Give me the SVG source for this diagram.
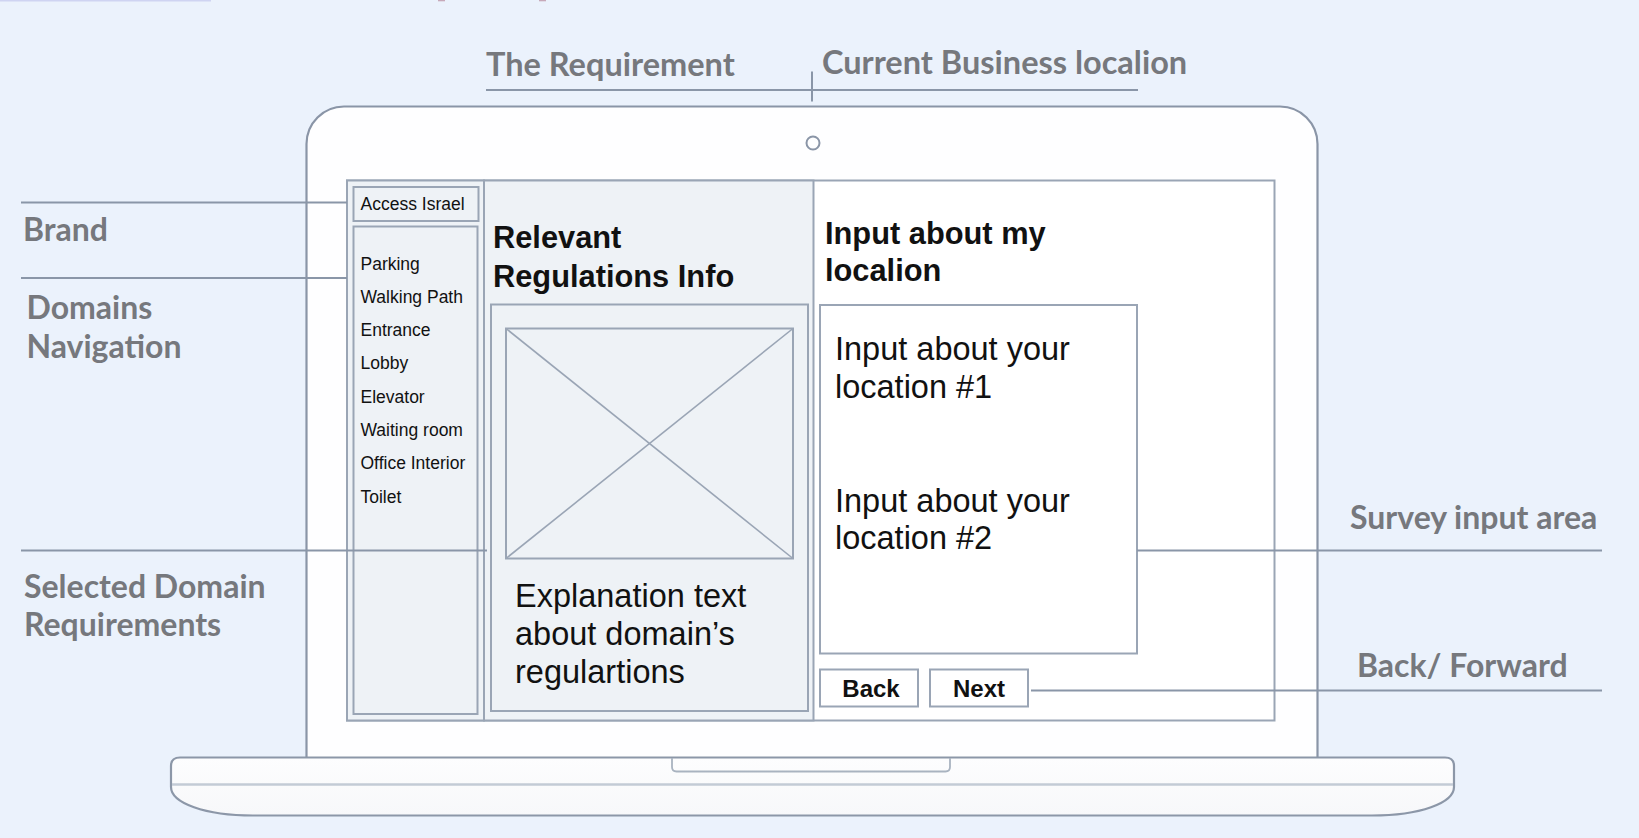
<svg xmlns="http://www.w3.org/2000/svg" width="1639" height="838" viewBox="0 0 1639 838">
  <defs>
    <linearGradient id="baseFill" x1="0" y1="0" x2="0" y2="1">
      <stop offset="0" stop-color="#fdfdfe"/>
      <stop offset="1" stop-color="#f7f8fa"/>
    </linearGradient>
  </defs>
  <style>
    .label { font-family: Lato, "Liberation Sans", sans-serif; font-weight: 700; font-size: 32px; fill: #76787d; }
    .top { font-size: 32.5px; }
    .lead { stroke: #8a96a8; stroke-width: 2; fill: none; }
    .frame { stroke: #8a95a7; stroke-width: 2.2; }
    .box { stroke: #9aa5b5; stroke-width: 2; }
    .ui { font-family: "Liberation Sans", Arial, sans-serif; fill: #111; }
    .nav { font-size: 17.5px; }
    .head { font-size: 30.8px; font-weight: 700; }
    .body { font-size: 32.5px; }
    .btn { font-size: 24px; font-weight: 700; }
  </style>

  <!-- page background -->
  <rect x="0" y="0" width="1639" height="838" fill="#ebf2fc"/>
  <!-- clipped header remnants along the top edge -->
  <rect x="0" y="0" width="211" height="1.5" fill="#cfd4f2"/>
  <rect x="438" y="0" width="7" height="1.3" fill="#c7a9b9"/>
  <rect x="539" y="0" width="7" height="1.3" fill="#c7a9b9"/>

  <!-- laptop -->
  <g id="laptop">
    <path class="frame" d="M306.5,757 L306.5,144 A37.5,37.5 0 0 1 344,106.5 L1280,106.5 A37.5,37.5 0 0 1 1317.5,144 L1317.5,757" fill="#fefeff"/>
    <circle cx="813" cy="143" r="6.5" fill="none" stroke="#8a95a7" stroke-width="2"/>
    <path d="M171,766 Q171,757.5 180,757.5 L1445,757.5 Q1454,757.5 1454,766 L1454,787 C1454,803 1420,815.5 1372,815.5 L253,815.5 C205,815.5 171,803 171,787 Z" fill="url(#baseFill)" stroke="#8c97a8" stroke-width="2.2"/>
    <line x1="172" y1="784.5" x2="1453" y2="784.5" stroke="#c3cbd6" stroke-width="2.5"/>
    <path d="M672,758 L672,767 Q672,771.5 676.5,771.5 L945.5,771.5 Q950,771.5 950,767 L950,758" fill="none" stroke="#a9b3c0" stroke-width="1.8"/>
  </g>

  <!-- screen -->
  <g id="screen">
    <rect x="347" y="180.5" width="927.5" height="540" fill="#ffffff" stroke="#9aa5b5" stroke-width="2"/>
    <rect x="347" y="180.5" width="137" height="540" fill="#eef2f6" class="box"/>
    <rect x="484" y="180.5" width="329.5" height="540" fill="#eef2f6" class="box"/>
  </g>

  <g id="brand">
    <rect x="353.5" y="187" width="125" height="34" fill="#eef2f6" class="box"/>
    <text class="ui nav" x="360.5" y="209.5">Access Israel</text>
  </g>

  <g id="domain-nav">
    <rect x="353.5" y="226.5" width="124" height="487.5" fill="#eef2f6" class="box"/>
    <text class="ui nav" x="360.5" y="269.5">Parking</text>
    <text class="ui nav" x="360.5" y="302.8">Walking Path</text>
    <text class="ui nav" x="360.5" y="336.1">Entrance</text>
    <text class="ui nav" x="360.5" y="369.4">Lobby</text>
    <text class="ui nav" x="360.5" y="402.7">Elevator</text>
    <text class="ui nav" x="360.5" y="436">Waiting room</text>
    <text class="ui nav" x="360.5" y="469.3">Office Interior</text>
    <text class="ui nav" x="360.5" y="502.6">Toilet</text>
  </g>

  <g id="regulations">
    <text class="ui head" x="493" y="247.5">Relevant</text>
    <text class="ui head" x="493" y="286.5">Regulations Info</text>
    <rect x="491" y="304.5" width="317" height="406.5" fill="#eef2f6" class="box"/>
    <rect x="506" y="328.5" width="287" height="230" fill="none" class="box"/>
    <line x1="506" y1="328.5" x2="793" y2="558.5" stroke="#9aa5b5" stroke-width="1.6"/>
    <line x1="793" y1="328.5" x2="506" y2="558.5" stroke="#9aa5b5" stroke-width="1.6"/>
    <text class="ui body" x="515" y="606.5">Explanation text</text>
    <text class="ui body" x="515" y="644.5">about domain’s</text>
    <text class="ui body" x="515" y="683">regulartions</text>
  </g>

  <g id="survey">
    <text class="ui head" x="825" y="244">Input about my</text>
    <text class="ui head" x="825" y="281">localion</text>
    <rect x="820" y="305" width="317" height="348.5" fill="#ffffff" class="box"/>
    <text class="ui body" x="835" y="360">Input about your</text>
    <text class="ui body" x="835" y="397.5">location #1</text>
    <text class="ui body" x="835" y="511.5">Input about your</text>
    <text class="ui body" x="835" y="548.5">location #2</text>
  </g>

  <g id="back-button">
    <rect x="820" y="669.5" width="98" height="37" fill="#ffffff" class="box"/>
    <text class="ui btn" x="871" y="697" text-anchor="middle">Back</text>
  </g>
  <g id="next-button">
    <rect x="930" y="669.5" width="98" height="37" fill="#ffffff" class="box"/>
    <text class="ui btn" x="979" y="697" text-anchor="middle">Next</text>
  </g>

  <!-- annotation leader lines -->
  <g id="connectors">
    <line class="lead" x1="486" y1="90" x2="1138" y2="90"/>
    <line class="lead" x1="812" y1="71.5" x2="812" y2="101.5" stroke-width="1.5"/>
    <line class="lead" x1="21" y1="202.5" x2="347" y2="202.5"/>
    <line class="lead" x1="21" y1="278" x2="347" y2="278"/>
    <line class="lead" x1="21" y1="550.5" x2="487" y2="550.5"/>
    <line class="lead" x1="1137" y1="550.5" x2="1602" y2="550.5"/>
    <line class="lead" x1="1031" y1="690.5" x2="1602" y2="690.5"/>
  </g>

  <!-- annotation labels -->
  <g id="label-requirement"><text class="label top" x="486" y="76">The Requirement</text></g>
  <g id="label-location"><text class="label top" x="822" y="74">Current Business localion</text></g>
  <g id="label-brand"><text class="label" x="23" y="241">Brand</text></g>
  <g id="label-domains"><text class="label" x="26.5" y="318.5">Domains</text><text class="label" x="26.5" y="358">Navigation</text></g>
  <g id="label-selected"><text class="label" x="24" y="597.5">Selected Domain</text><text class="label" x="24" y="636">Requirements</text></g>
  <g id="label-survey"><text class="label" x="1350" y="529">Survey input area</text></g>
  <g id="label-backforward"><text class="label" x="1357" y="677">Back/ Forward</text></g>
</svg>
